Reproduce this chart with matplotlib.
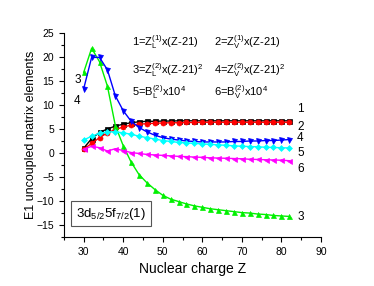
import numpy as np
import matplotlib
matplotlib.use("Agg")
import matplotlib.pyplot as plt
from matplotlib.ticker import MultipleLocator

plt.rcParams['font.family'] = ['Liberation Sans', 'DejaVu Sans']
plt.rcParams['mathtext.fontset'] = 'custom'
plt.rcParams['mathtext.rm'] = 'Liberation Sans'
plt.rcParams['mathtext.it'] = 'Liberation Sans'

Z = np.arange(30, 84, 2)

zl1 = [1.0, 3.0, 4.3, 5.0, 5.6, 6.0, 6.3, 6.5, 6.6, 6.6, 6.65, 6.65, 6.7, 6.7,
       6.7, 6.7, 6.7, 6.7, 6.7, 6.7, 6.7, 6.7, 6.7, 6.7, 6.7, 6.7, 6.7]
zv1 = [0.8, 2.0, 3.2, 4.2, 4.9, 5.4, 5.8, 6.0, 6.1, 6.2, 6.25, 6.3, 6.3, 6.35,
       6.35, 6.4, 6.4, 6.4, 6.4, 6.4, 6.4, 6.4, 6.4, 6.4, 6.4, 6.4, 6.4]
zl2 = [16.8, 21.8, 19.0, 13.9, 5.7, 1.5, -1.9, -4.5, -6.2, -7.6, -8.8, -9.6,
       -10.1, -10.6, -11.0, -11.3, -11.6, -11.8, -12.0, -12.2, -12.4, -12.5,
       -12.7, -12.8, -13.0, -13.1, -13.2]
zv2 = [13.4, 19.9, 19.9, 17.3, 11.9, 8.8, 6.6, 5.3, 4.4, 3.7, 3.2, 2.9, 2.7,
       2.5, 2.4, 2.3, 2.3, 2.3, 2.3, 2.4, 2.4, 2.5, 2.5, 2.6, 2.6, 2.7, 2.8]
bl2 = [2.7, 3.5, 4.1, 4.4, 4.4, 4.2, 3.9, 3.5, 3.2, 2.9, 2.6, 2.4, 2.2, 2.1,
       2.0, 1.9, 1.8, 1.7, 1.6, 1.5, 1.4, 1.35, 1.3, 1.2, 1.15, 1.1, 1.05]
bv2 = [0.8, 1.4, 1.1, 0.4, 0.9, 0.5, 0.1, -0.1, -0.3, -0.4, -0.5, -0.6, -0.7,
       -0.75, -0.85, -0.9, -1.0, -1.05, -1.1, -1.15, -1.2, -1.3, -1.35, -1.4,
       -1.45, -1.5, -1.6]

series = [
    (zl1, 'black', 's'),
    (zv1, 'red', 'o'),
    (zl2, '#00f000', '^'),
    (zv2, 'blue', 'v'),
    (bl2, 'cyan', 'D'),
    (bv2, 'magenta', '<'),
]

fig = plt.figure(figsize=(3.74, 2.86), dpi=100)
ax = fig.add_axes([0.171, 0.171, 0.687, 0.714])

for y, c, m in series:
    ms = 3.0 if m == 'D' else 3.6
    ax.plot(Z, y, color=c, marker=m, markersize=ms, linewidth=1.0,
            markeredgewidth=0.5)

ax.set_xlim(25, 90)
ax.set_ylim(-17.5, 25)
ax.xaxis.set_major_locator(MultipleLocator(10))
ax.xaxis.set_minor_locator(MultipleLocator(5))
ax.yaxis.set_major_locator(MultipleLocator(5))
ax.yaxis.set_minor_locator(MultipleLocator(2.5))
ax.tick_params(which='both', direction='out', labelsize=7.5, width=0.8)
ax.tick_params(which='major', length=3.5)
ax.tick_params(which='minor', length=2)
ax.spines['top'].set_visible(False)
ax.spines['right'].set_visible(False)

ax.set_xlabel('Nuclear charge Z', fontsize=10)
ax.set_ylabel('E1 uncoupled matrix elements', fontsize=9)
ax.yaxis.set_label_coords(-0.105, 0.5)

fs = 8
ax.text(42.3, 23, r'1=Z$_L^{(1)}$x(Z-21)', fontsize=fs, va='center')
ax.text(63, 23, r'2=Z$_V^{(1)}$x(Z-21)', fontsize=fs, va='center')
ax.text(42.3, 17.3, r'3=Z$_L^{(2)}$x(Z-21)$^2$', fontsize=fs, va='center')
ax.text(63, 17.3, r'4=Z$_V^{(2)}$x(Z-21)$^2$', fontsize=fs, va='center')
ax.text(42.3, 12.8, r'5=B$_L^{(2)}$x10$^4$', fontsize=fs, va='center')
ax.text(63, 12.8, r'6=B$_V^{(2)}$x10$^4$', fontsize=fs, va='center')

lab_fs = 8.5
for lab, yy in [('1', 9.1), ('2', 5.5), ('4', 3.1), ('5', -0.1),
                ('6', -3.4), ('3', -13.3)]:
    ax.text(84, yy, lab, fontsize=lab_fs, va='center')
ax.text(28.4, 15.2, '3', fontsize=lab_fs, va='center', ha='center')
ax.text(28.4, 10.9, '4', fontsize=lab_fs, va='center', ha='center')

ax.text(36.9, -12.6, r'3d$_{5/2}$5f$_{7/2}$(1)', fontsize=9.5,
        ha='center', va='center',
        bbox=dict(boxstyle='square,pad=0.35', fc='white', ec='#555555', lw=0.8))

fig.savefig('out.png', dpi=100)
